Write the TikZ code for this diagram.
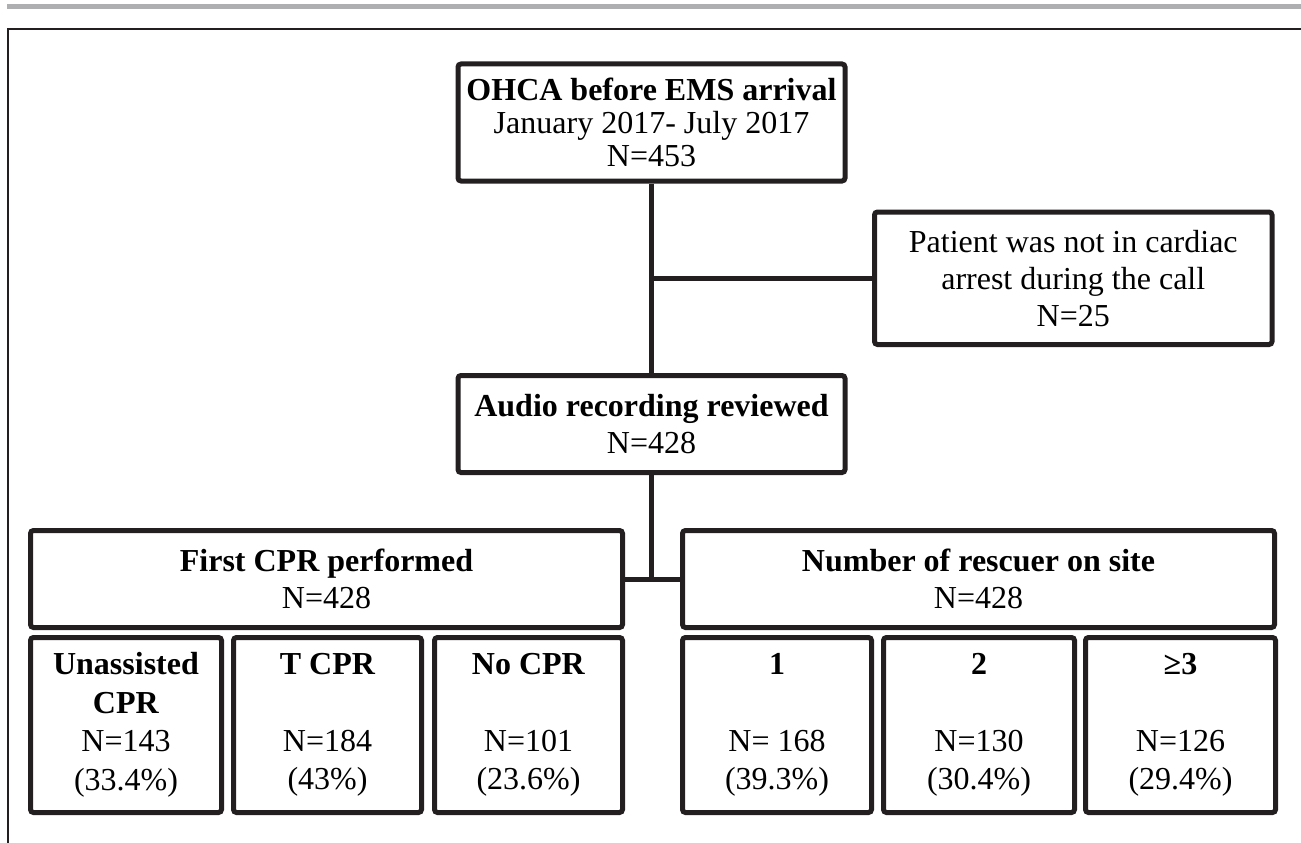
\documentclass[tikz,border=0pt]{standalone}
\usepackage{fontspec}
\setmainfont{Liberation Serif}
\usepackage{tikz}
\usetikzlibrary{calc}
\definecolor{inkcolore}{HTML}{231F20}
\definecolor{rulecolore}{HTML}{AEAFB1}
\colorlet{inkcolor}{inkcolore}
\colorlet{rulecolor}{rulecolore}
\tikzstyle{flowbox} =[
    draw=inkcolor,
    line width=5pt,
    rounded corners=3pt,
    rectangle,
    align=center,
    inner sep=0pt,
    font=\fontsize{32}{37}\selectfont
    ]
\tikzstyle{countbox} =[
    flowbox,
    minimum height=175pt,
    font=\fontsize{32}{38.5}\selectfont,
    execute at begin node={\rule{0pt}{38pt}}
    ]
\tikzstyle{link} = [
    draw=inkcolor,
    line width=5pt
    ]

\begin{document}
\begin{tikzpicture}[x=1pt,y=-1pt]
\useasboundingbox (0,0) rectangle (1301,843);
% page rule and frame
\fill[rulecolor] (7,4) rectangle (1301,9.5);
\draw[inkcolor, line width=2pt] (7.5,843) -- (7.5,29) -- (1301,29);

\node[flowbox, minimum width=387pt, minimum height=117pt,
    font=\fontsize{32}{33}\selectfont] (ohca) at (651.5,122.5)
    {\textbf{OHCA before EMS arrival}\\January 2017- July 2017\\N=453};
\node[flowbox, minimum width=397.5pt, minimum height=132.5pt] (excluded) at (1073.25,278.25)
    {Patient was not in cardiac\\arrest during the call\\N=25};
\node[flowbox, minimum width=387pt, minimum height=97pt] (audio) at (651.5,424)
    {\textbf{Audio recording reviewed}\\N=428};
\node[flowbox, minimum width=592pt, minimum height=97pt] (firstcpr) at (326.5,579)
    {\textbf{First CPR performed}\\N=428};
\node[flowbox, minimum width=592pt, minimum height=97pt] (rescuers) at (978.5,579)
    {\textbf{Number of rescuer on site}\\N=428};

\node[countbox, minimum width=191pt] (unassisted) at (126,725)
    {\textbf{Unassisted}\\\textbf{CPR}\\N=143\\(33.4\%)};
\node[countbox, minimum width=188pt] (tcpr) at (327.5,725)
    {\textbf{T CPR}\\[38.5pt]N=184\\(43\%)};
\node[countbox, minimum width=188pt] (nocpr) at (528.5,725)
    {\textbf{No CPR}\\[38.5pt]N=101\\(23.6\%)};
\node[countbox, minimum width=189pt] (one) at (777,725)
    {\textbf{1}\\[38.5pt]N= 168\\(39.3\%)};
\node[countbox, minimum width=191pt] (two) at (979,725)
    {\textbf{2}\\[38.5pt]N=130\\(30.4\%)};
\node[countbox, minimum width=190pt] (three) at (1180.5,725)
    {\textbf{≥3}\\[38.5pt]N=126\\(29.4\%)};

\draw[link] (ohca.south) -- (audio.north);
\draw[link] (ohca.south |- excluded.west) -- (excluded.west);
\draw[link] (firstcpr.east) -- (rescuers.west);
\draw[link] (audio.south) -- (audio.south |- firstcpr.east);
\end{tikzpicture}
\end{document}
